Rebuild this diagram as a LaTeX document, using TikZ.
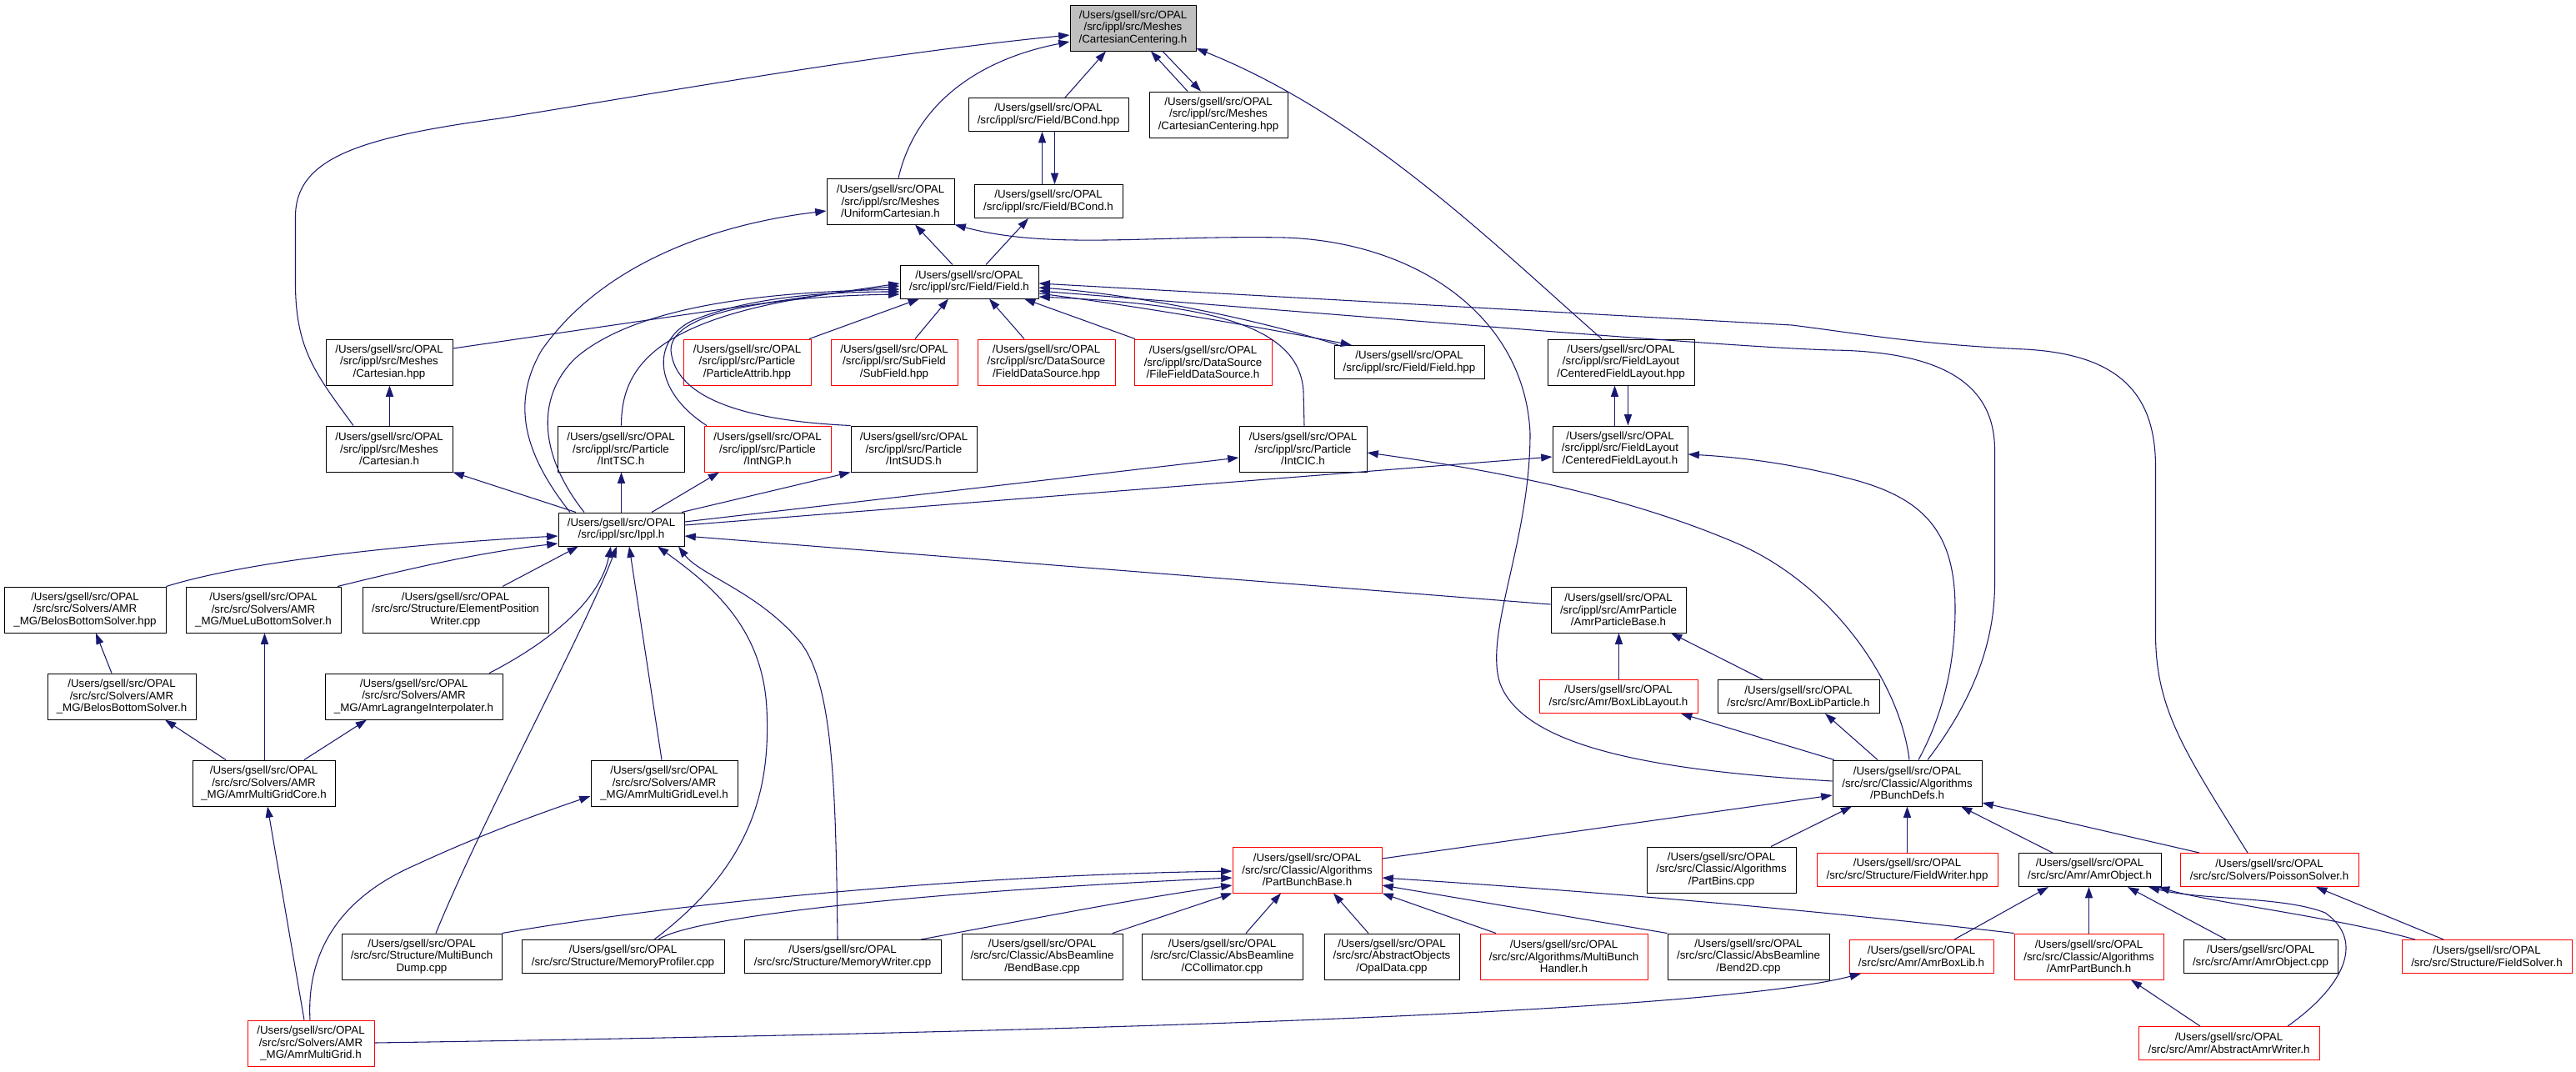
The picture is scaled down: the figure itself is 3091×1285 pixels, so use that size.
\documentclass[tikz,border=0pt]{standalone}
\usepackage{fontspec}
\setmainfont{Liberation Sans}
\usetikzlibrary{arrows.meta}
\definecolor{edgeblue}{HTML}{191970}
\definecolor{nodegray}{HTML}{BFBFBF}
\newcommand{\gsp}{/Users/gsell/src/OPAL}
\begin{document}
\begin{tikzpicture}[x=0.75pt,y=-0.75pt,
  nb/.style={draw=black, line width=0.75pt, inner xsep=1pt, inner ysep=0pt, align=center,
    font=\fontsize{10pt}{11pt}\selectfont, anchor=center},
  lt/.style={minimum height=30pt},
  lh/.style={minimum height=41.25pt},
  rd/.style={draw=red},
  bw/.style={minimum width=#1*0.75pt},
  ed/.style={draw=edgeblue, line width=0.8pt, -{Triangle[length=10pt,width=6.8pt]}}]
\useasboundingbox (0,0) rectangle (3091,1285);
% rank 0
\node[nb,lh,bw=151,fill=nodegray] (cch) at (1359.5,33.5) {\gsp\\/src/ippl/src/Meshes\\/CartesianCentering.h};
% rank 1
\node[nb,lt,bw=192] (bcondhpp) at (1258,137.5) {\gsp\\/src/ippl/src/Field/BCond.hpp};
\node[nb,lh,bw=166] (cchpp) at (1462,137.5) {\gsp\\/src/ippl/src/Meshes\\/CartesianCentering.hpp};
% rank 2
\node[nb,lh,bw=153] (uch) at (1068.5,241.5) {\gsp\\/src/ippl/src/Meshes\\/UniformCartesian.h};
\node[nb,lt,bw=178] (bcondh) at (1258,241.5) {\gsp\\/src/ippl/src/Field/BCond.h};
% rank 3
\node[nb,lt,bw=166] (fieldh) at (1163,338) {\gsp\\/src/ippl/src/Field/Field.h};
% rank 4
\node[nb,lh,bw=152] (carthpp) at (467,434.5) {\gsp\\/src/ippl/src/Meshes\\/Cartesian.hpp};
\node[nb,lh,bw=153,rd] (pattrib) at (896.5,434.5) {\gsp\\/src/ippl/src/Particle\\/ParticleAttrib.hpp};
\node[nb,lh,bw=152,rd] (subfield) at (1073,434.5) {\gsp\\/src/ippl/src/SubField\\/SubField.hpp};
\node[nb,lh,bw=165,rd] (fds) at (1255.5,434.5) {\gsp\\/src/ippl/src/DataSource\\/FieldDataSource.hpp};
\node[nb,lh,bw=165,rd] (ffds) at (1443.5,434.5) {\gsp\\/src/ippl/src/DataSource\\/FileFieldDataSource.h};
\node[nb,lt,bw=180] (fieldhpp) at (1691,434.5) {\gsp\\/src/ippl/src/Field/Field.hpp};
\node[nb,lh,bw=176] (cflhpp) at (1945,434.5) {\gsp\\/src/ippl/src/FieldLayout\\/CenteredFieldLayout.hpp};
% rank 5
\node[nb,lh,bw=152] (carth) at (467,538.5) {\gsp\\/src/ippl/src/Meshes\\/Cartesian.h};
\node[nb,lh,bw=152] (inttsc) at (745,538.5) {\gsp\\/src/ippl/src/Particle\\/IntTSC.h};
\node[nb,lh,bw=152,rd] (intngp) at (921,538.5) {\gsp\\/src/ippl/src/Particle\\/IntNGP.h};
\node[nb,lh,bw=151] (intsuds) at (1096.5,538.5) {\gsp\\/src/ippl/src/Particle\\/IntSUDS.h};
\node[nb,lh,bw=153] (intcic) at (1563.5,538.5) {\gsp\\/src/ippl/src/Particle\\/IntCIC.h};
\node[nb,lh,bw=162] (cflh) at (1944,538.5) {\gsp\\/src/ippl/src/FieldLayout\\/CenteredFieldLayout.h};
% rank 6
\node[nb,lt,bw=151] (ippl) at (745.5,635) {\gsp\\/src/ippl/src/Ippl.h};
% rank 7
\node[nb,lh,bw=194] (belhpp) at (102,731.5) {\gsp\\/src/src/Solvers/AMR\\\_MG/BelosBottomSolver.hpp};
\node[nb,lh,bw=186] (muelu) at (316,731.5) {\gsp\\/src/src/Solvers/AMR\\\_MG/MueLuBottomSolver.h};
\node[nb,lh,bw=223] (elempos) at (546.5,731.5) {\gsp\\/src/src/Structure/ElementPosition\\Writer.cpp};
\node[nb,lh,bw=162] (amrpb) at (1942,731.5) {\gsp\\/src/ippl/src/AmrParticle\\/AmrParticleBase.h};
% rank 8
\node[nb,lh,bw=178] (belh) at (146,835.5) {\gsp\\/src/src/Solvers/AMR\\\_MG/BelosBottomSolver.h};
\node[nb,lh,bw=213] (lagr) at (496.5,835.5) {\gsp\\/src/src/Solvers/AMR\\\_MG/AmrLagrangeInterpolater.h};
\node[nb,lt,bw=190,rd] (boxlay) at (1942,835.5) {\gsp\\/src/src/Amr/BoxLibLayout.h};
\node[nb,lt,bw=194] (boxpart) at (2158,835.5) {\gsp\\/src/src/Amr/BoxLibParticle.h};
% rank 9
\node[nb,lh,bw=171] (amgcore) at (316.5,939.5) {\gsp\\/src/src/Solvers/AMR\\\_MG/AmrMultiGridCore.h};
\node[nb,lh,bw=176] (amglevel) at (797,939.5) {\gsp\\/src/src/Solvers/AMR\\\_MG/AmrMultiGridLevel.h};
\node[nb,lh,bw=179] (pbdefs) at (2288.5,939.5) {\gsp\\/src/src/Classic/Algorithms\\/PBunchDefs.h};
% rank 10
\node[nb,lh,bw=179,rd] (pbb) at (1568.5,1043.5) {\gsp\\/src/src/Classic/Algorithms\\/PartBunchBase.h};
\node[nb,lh,bw=179] (partbins) at (2065.5,1043.5) {\gsp\\/src/src/Classic/Algorithms\\/PartBins.cpp};
\node[nb,lt,bw=217,rd] (fwriter) at (2288.5,1043.5) {\gsp\\/src/src/Structure/FieldWriter.hpp};
\node[nb,lt,bw=171] (amrobjh) at (2507.5,1043.5) {\gsp\\/src/src/Amr/AmrObject.h};
\node[nb,lt,bw=214,rd] (poisson) at (2723,1043.5) {\gsp\\/src/src/Solvers/PoissonSolver.h};
% rank 11
\node[nb,lh,bw=192] (mbdump) at (506,1147.5) {\gsp\\/src/src/Structure/MultiBunch\\Dump.cpp};
\node[nb,lt,bw=243] (memprof) at (747.5,1147.5) {\gsp\\/src/src/Structure/MemoryProfiler.cpp};
\node[nb,lt,bw=236] (memwr) at (1011,1147.5) {\gsp\\/src/src/Structure/MemoryWriter.cpp};
\node[nb,lh,bw=193] (bendbase) at (1250.5,1147.5) {\gsp\\/src/src/Classic/AbsBeamline\\/BendBase.cpp};
\node[nb,lh,bw=193] (ccoll) at (1466.5,1147.5) {\gsp\\/src/src/Classic/AbsBeamline\\/CCollimator.cpp};
\node[nb,lh,bw=162] (opaldata) at (1670,1147.5) {\gsp\\/src/src/AbstractObjects\\/OpalData.cpp};
\node[nb,lh,bw=201,rd] (mbhandler) at (1876.5,1147.5) {\gsp\\/src/src/Algorithms/MultiBunch\\Handler.h};
\node[nb,lh,bw=194] (bend2d) at (2098,1147.5) {\gsp\\/src/src/Classic/AbsBeamline\\/Bend2D.cpp};
\node[nb,lt,bw=173,rd] (amrboxlib) at (2305.5,1147.5) {\gsp\\/src/src/Amr/AmrBoxLib.h};
\node[nb,lh,bw=179,rd] (amrpartbunch) at (2506.5,1147.5) {\gsp\\/src/src/Classic/Algorithms\\/AmrPartBunch.h};
\node[nb,lt,bw=185] (amrobjcpp) at (2712.5,1147.5) {\gsp\\/src/src/Amr/AmrObject.cpp};
\node[nb,lt,bw=204,rd] (fsolver) at (2984,1147.5) {\gsp\\/src/src/Structure/FieldSolver.h};
% rank 12
\node[nb,lh,bw=152,rd] (amrmg) at (373,1251.5) {\gsp\\/src/src/Solvers/AMR\\\_MG/AmrMultiGrid.h};
\node[nb,lt,bw=217,rd] (abswriter) at (2674.5,1251.5) {\gsp\\/src/src/Amr/AbstractAmrWriter.h};

% ---- edges into CartesianCentering.h
\draw[ed] (uch.north -| 1078,0) .. controls (1100,120) and (1180,70) .. (cch.west |- 0,50);
\draw[ed] (bcondhpp.north -| 1278,0) -- (cch.south -| 1327,0);
\draw[ed] (cchpp.north -| 1425,0) -- (cch.south -| 1381,0);
\draw[ed] (cch.south -| 1395,0) -- (cchpp.north -| 1441,0);
\draw[ed] (cflhpp.north -| 1922,0) .. controls (1800,300) and (1640,140) .. (cch.east |- 0,58);
\draw[ed] (carth.north -| 424,0) .. controls (380,450) and (354.5,420) .. (354.5,340) -- (354.5,260) .. controls (354.5,190) and (430,165) .. (600,142) .. controls (800,110) and (1050,65) .. (cch.west |- 0,42);
% ---- BCond
\draw[ed] (bcondh.north -| 1250.5,0) -- (bcondhpp.south -| 1250.5,0);
\draw[ed] (bcondhpp.south -| 1265.5,0) -- (bcondh.north -| 1265.5,0);
% ---- Field.h neighbourhood
\draw[ed] (fieldh.north -| 1143,0) -- (uch.south -| 1098,0);
\draw[ed] (fieldh.north -| 1183,0) -- (bcondh.south -| 1234,0);
\draw[ed] (ippl.north -| 684,0) .. controls (625,540) and (615,480) .. (650,420) .. controls (720,320) and (850,270) .. (uch.west |- 0,253);
\draw[ed] (ippl.north -| 701,0) .. controls (650,550) and (640,480) .. (690,430) .. controls (770,360) and (950,350) .. (fieldh.west |- 0,347);
\draw[ed] (carthpp.east |- 0,418) -- (fieldh.west |- 0,340);
\draw[ed] (inttsc.north -| 745.5,0) .. controls (745.5,430) and (800,370) .. (fieldh.west |- 0,343);
\draw[ed] (intngp.north -| 848,0) .. controls (785,470) and (780,410) .. (830,385) .. controls (900,355) and (1000,350) .. (fieldh.west |- 0,350);
\draw[ed] (intsuds.north west) .. controls (900,505) and (810,480) .. (805,420) .. controls (805,370) and (950,355) .. (fieldh.west |- 0,353);
\draw[ed] (pattrib.north -| 971,0) -- (fieldh.south -| 1103,0);
\draw[ed] (subfield.north -| 1098,0) -- (fieldh.south -| 1138,0);
\draw[ed] (fds.north -| 1229,0) -- (fieldh.south -| 1187,0);
\draw[ed] (ffds.north -| 1362,0) -- (fieldh.south -| 1229,0);
\draw[ed] (fieldhpp.north -| 1606,0) .. controls (1500,380) and (1350,352) .. (fieldh.east |- 0,345);
\draw[ed] (fieldh.east |- 0,352) .. controls (1350,365) and (1500,390) .. (fieldhpp.north -| 1622,0);
\draw[ed] (intcic.north -| 1565,0) -- (1564,470) .. controls (1560,390) and (1450,365) .. (fieldh.east |- 0,356);
\draw[ed] (pbdefs.north -| 2313,0) .. controls (2360,850) and (2393.5,780) .. (2393.5,700) -- (2393.5,540) .. controls (2393.5,460) and (2330,422) .. (2200,420) .. controls (2100,418) and (1700,385) .. (fieldh.east |- 0,349);
\draw[ed] (poisson.north -| 2697,0) .. controls (2620,900) and (2586.5,850) .. (2586.5,760) -- (2586.5,560) .. controls (2586.5,470) and (2540,425) .. (2430,419) .. controls (2300,413) and (2230,400) .. (2150,390) -- (fieldh.east |- 0,340);
% ---- PBunchDefs upward
\draw[ed] (pbdefs.north -| 2302,0) .. controls (2330,860) and (2346,800) .. (2346,730) .. controls (2346,640) and (2310,600) .. (2230,577) .. controls (2150,555) and (2080,548) .. (cflh.east |- 0,545);
\draw[ed] (pbdefs.north -| 2291,0) .. controls (2280,820) and (2200,700) .. (2080,650) .. controls (1950,595) and (1800,565) .. (intcic.east |- 0,543);
\draw[ed] (pbdefs.west |- 0,937) .. controls (2000,925) and (1830,900) .. (1800,820) .. controls (1780,760) and (1836,650) .. (1836,520) .. controls (1830,380) and (1700,290) .. (1541,285) .. controls (1380,282) and (1260,300) .. (uch.south east);
\draw[ed] (pbdefs.north -| 2201,0) -- (boxlay.south -| 2017,0);
\draw[ed] (pbdefs.north -| 2253,0) -- (boxpart.south -| 2190,0);
% ---- into PBunchDefs
\draw[ed] (pbb.east |- 0,1030) -- (pbdefs.west |- 0,954);
\draw[ed] (partbins.north -| 2125,0) -- (pbdefs.south -| 2222,0);
\draw[ed] (fwriter.north) -- (pbdefs.south);
\draw[ed] (amrobjh.north -| 2463,0) -- (pbdefs.south -| 2353,0);
\draw[ed] (poisson.north -| 2639,0) -- (pbdefs.east |- 0,963);
% ---- AmrParticleBase, Ippl
\draw[ed] (boxlay.north -| 1942.5,0) -- (amrpb.south -| 1942.5,0);
\draw[ed] (boxpart.north -| 2115,0) -- (amrpb.south -| 2005,0);
\draw[ed] (amrpb.west |- 0,725) -- (ippl.east |- 0,643);
\draw[ed] (ippl.east |- 0,626) -- (intcic.west |- 0,549);
\draw[ed] (ippl.east |- 0,630) -- (cflh.west |- 0,548);
\draw[ed] (ippl.north -| 818,0) -- (intsuds.south west);
\draw[ed] (ippl.north -| 782,0) -- (intngp.south -| 863,0);
\draw[ed] (ippl.north -| 745.5,0) -- (inttsc.south -| 745.5,0);
\draw[ed] (ippl.north -| 691,0) -- (carth.south east);
\draw[ed] (cflh.north -| 1937.5,0) -- (cflhpp.south -| 1937.5,0);
\draw[ed] (cflhpp.south -| 1953.5,0) -- (cflh.north -| 1953.5,0);
\draw[ed] (carth.north -| 467.5,0) -- (carthpp.south -| 467.5,0);
% ---- lower left
\draw[ed] (belhpp.north east) .. controls (300,672) and (500,652) .. (ippl.west |- 0,643);
\draw[ed] (muelu.north -| 405,0) .. controls (500,680) and (580,662) .. (ippl.west |- 0,652);
\draw[ed] (elempos.north -| 603,0) -- (ippl.south -| 694,0);
\draw[ed] (belh.north -| 134,0) -- (belhpp.south -| 115,0);
\draw[ed] (amgcore.north -| 317.5,0) -- (muelu.south -| 317.5,0);
\draw[ed] (amgcore.north -| 271,0) -- (belh.south -| 198,0);
\draw[ed] (amgcore.north -| 365,0) -- (lagr.south -| 440,0);
\draw[ed] (lagr.north -| 587,0) .. controls (660,770) and (720,720) .. (ippl.south -| 733,0);
\draw[ed] (mbdump.north -| 523,0) .. controls (580,980) and (700,760) .. (ippl.south -| 740,0);
\draw[ed] (amglevel.north -| 794,0) -- (ippl.south -| 755,0);
\draw[ed] (memprof.north -| 785,0) .. controls (900,1040) and (925,950) .. (920,850) .. controls (915,750) and (850,700) .. (ippl.south -| 789,0);
\draw[ed] (memwr.north -| 1005,0) .. controls (1003,950) and (1000,820) .. (960,770) .. controls (910,710) and (840,690) .. (ippl.south -| 814,0);
\draw[ed] (amrmg.north -| 365,0) -- (amgcore.south -| 321,0);
\draw[ed] (amrmg.north -| 372,0) .. controls (368,1150) and (400,1080) .. (500,1037) .. controls (580,1000) and (650,975) .. (amglevel.west |- 0,955);
\draw[ed] (amrmg.east |- 0,1251) .. controls (1300,1238) and (2050,1215) .. (amrboxlib.south -| 2233,0);
% ---- into PartBunchBase
\draw[ed] (mbdump.north east) .. controls (800,1085) and (1150,1050) .. (pbb.west |- 0,1045);
\draw[ed] (memprof.north -| 790,0) .. controls (830,1100) and (1100,1070) .. (pbb.west |- 0,1053);
\draw[ed] (memwr.north -| 1105,0) .. controls (1250,1100) and (1380,1075) .. (pbb.west |- 0,1062);
\draw[ed] (bendbase.north -| 1335,0) -- (pbb.south west);
\draw[ed] (ccoll.north -| 1495,0) -- (pbb.south -| 1537,0);
\draw[ed] (opaldata.north -| 1642,0) -- (pbb.south -| 1600,0);
\draw[ed] (mbhandler.north -| 1795,0) -- (pbb.south east);
\draw[ed] (bend2d.north west) -- (pbb.east |- 0,1062);
\draw[ed] (amrpartbunch.north west) .. controls (2250,1100) and (2000,1075) .. (pbb.east |- 0,1053);
% ---- lower right
\draw[ed] (abswriter.north -| 2640,0) -- (amrpartbunch.south -| 2557,0);
\draw[ed] (abswriter.north -| 2745,0) .. controls (2810,1185) and (2840,1130) .. (2790,1095) .. controls (2740,1075) and (2640,1080) .. (amrobjh.south -| 2578,0);
\draw[ed] (amrboxlib.north -| 2345,0) -- (amrobjh.south -| 2458,0);
\draw[ed] (amrpartbunch.north -| 2506.5,0) -- (amrobjh.south -| 2506.5,0);
\draw[ed] (amrobjcpp.north -| 2671,0) -- (amrobjh.south -| 2553,0);
\draw[ed] (fsolver.north -| 2898,0) .. controls (2800,1100) and (2650,1082) .. (amrobjh.south -| 2590,0);
\draw[ed] (fsolver.north -| 2932,0) -- (poisson.south -| 2779,0);
\end{tikzpicture}
\end{document}
